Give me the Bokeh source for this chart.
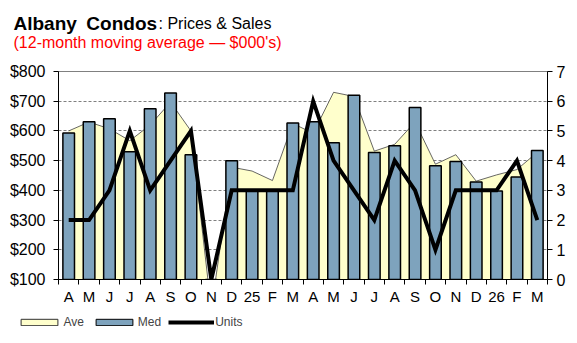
from bokeh.plotting import figure
from bokeh.layouts import column
from bokeh.models import (Range1d, LinearAxis, FixedTicker, NumeralTickFormatter,
                          Label, Legend, LegendItem, Grid)
from bokeh.embed import file_html
from bokeh.resources import INLINE

months = ["A", "M", "J", "J", "A", "S", "O", "N", "D", "25", "F", "M",
          "A", "M", "J", "J", "A", "S", "O", "N", "D", "26", "F", "M"]
ave = [600, 630, 607, 567, 620, 697, 600, 0, 478, 465, 433, 625,
       592, 730, 716, 532, 555, 630, 488, 520, 431, 452, 470, 528]
med = [593, 631, 641, 530, 675, 728, 520, 0, 500, 400, 400, 627,
       631, 560, 720, 527, 550, 679, 483, 497, 428, 398, 445, 534]
units = [2, 2, 3, 5, 3, 4, 5, 0, 3, 3, 3, 3,
         6, 4, 3, 2, 4, 3, 1, 3, 3, 3, 4, 2]
price_ticks = [100, 200, 300, 400, 500, 600, 700, 800]
grid_ticks = [200, 300, 400, 500, 600, 700]
unit_ticks = [0, 1, 2, 3, 4, 5, 6, 7]

FONT = "Liberation Sans"
AVE_COL = "#FFFFCC"
MED_COL = "#7EA3BD"
W = 577


def blank_fig(height):
    f = figure(width=W, height=height, title=None,
               x_range=Range1d(0, 1), y_range=Range1d(0, 1),
               x_axis_type=None, y_axis_type=None,
               output_backend="svg", toolbar_location=None, min_border=0)
    f.outline_line_color = None
    f.background_fill_color = "white"
    f.border_fill_color = "white"
    f.frame_align = False
    return f


# ---------- title block ----------
TH = 56
t = blank_fig(TH)
t.add_layout(Label(x=13, y=TH - 22.5, x_units="screen", y_units="screen",
                   text="Albany\u2002Condos", text_font=FONT, text_font_style="bold",
                   text_font_size="19px", text_color="black",
                   text_baseline="alphabetic"))
t.add_layout(Label(x=158, y=TH - 22.5, x_units="screen", y_units="screen",
                   text=": Prices & Sales", text_font=FONT,
                   text_font_size="16px", text_color="black",
                   text_baseline="alphabetic"))
t.add_layout(Label(x=13, y=TH - 42, x_units="screen", y_units="screen",
                   text="(12-month moving average \u2014 $000's)", text_font=FONT,
                   text_font_size="16px", text_color="#FF0000",
                   text_baseline="alphabetic"))

# ---------- main chart ----------
n = len(months)
xs = [i + 0.5 for i in range(n)]

PH = 252
p = figure(width=W, height=PH, title=None,
           x_range=Range1d(0, n), y_range=Range1d(100, 800),
           x_axis_type=None, y_axis_type=None,
           output_backend="svg", toolbar_location=None,
           min_border_left=58, min_border_right=30,
           min_border_top=71 - TH, min_border_bottom=PH - (279 - TH))
p.frame_align = False
p.extra_y_ranges = {"units": Range1d(0, 7)}
p.outline_line_color = "#808080"
p.outline_line_width = 1
p.background_fill_color = "white"
p.border_fill_color = "white"

grid = Grid(dimension=1, ticker=FixedTicker(ticks=grid_ticks),
            grid_line_color="#808080", grid_line_dash="3 2", grid_line_width=1)
p.add_layout(grid)

p.varea(x=xs, y1=0, y2=ave, fill_color=AVE_COL)
p.line(x=xs, y=ave, line_color="#404040", line_width=0.8)

p.vbar(x=xs, top=med, bottom=0, width=0.57, fill_color=MED_COL,
       line_color="black", line_width=1.5)

p.line(x=xs, y=units, y_range_name="units", line_color="black",
       line_width=4, line_join="miter")

yax = LinearAxis(ticker=FixedTicker(ticks=price_ticks),
                 formatter=NumeralTickFormatter(format="$0"))
rax = LinearAxis(y_range_name="units", ticker=FixedTicker(ticks=unit_ticks))
for ax, so in ((yax, 8), (rax, 4)):
    ax.axis_line_color = "black"
    ax.major_tick_out = 5
    ax.major_tick_in = 0
    ax.major_tick_line_color = "black"
    ax.major_label_standoff = so
    ax.major_label_text_font = FONT
    ax.major_label_text_font_size = "16px"
    ax.major_label_text_color = "black"
p.add_layout(yax, "left")
p.add_layout(rax, "right")

xax = LinearAxis(ticker=FixedTicker(ticks=xs, minor_ticks=list(range(n + 1))),
                 major_label_overrides={x: m for x, m in zip(xs, months)})
xax.axis_line_color = "black"
xax.major_tick_out = 0
xax.major_tick_in = 0
xax.major_tick_line_color = None
xax.minor_tick_out = 5
xax.minor_tick_in = 0
xax.minor_tick_line_color = "black"
xax.major_label_standoff = 3
xax.major_label_text_font = FONT
xax.major_label_text_font_size = "15px"
xax.major_label_text_color = "black"
p.add_layout(xax, "below")

# ---------- legend block ----------
LH = 343 - TH - PH
lg = blank_fig(LH)
# legend-only renderers, kept outside the visible range
r_ave = lg.quad(left=[5], right=[6], top=[6], bottom=[5], fill_color=AVE_COL,
                line_color="#303030", line_width=1)
r_med = lg.quad(left=[5], right=[6], top=[6], bottom=[5], fill_color=MED_COL,
                line_color="black", line_width=1)
r_units = lg.line(x=[5, 6], y=[5, 6], line_color="black", line_width=4)
legend = Legend(items=[LegendItem(label="Ave", renderers=[r_ave]),
                       LegendItem(label="Med", renderers=[r_med]),
                       LegendItem(label="Units", renderers=[r_units])],
                orientation="horizontal", location=(16.4, 343 - 329),
                glyph_width=46, glyph_height=8, label_height=8,
                label_standoff=1, spacing=7, padding=0, margin=0,
                label_text_font=FONT, label_text_font_size="12px",
                border_line_color=None, background_fill_alpha=0)
lg.add_layout(legend, "center")

layout = column(t, p, lg, spacing=0)
open("out.html", "w").write(file_html(layout, INLINE))
